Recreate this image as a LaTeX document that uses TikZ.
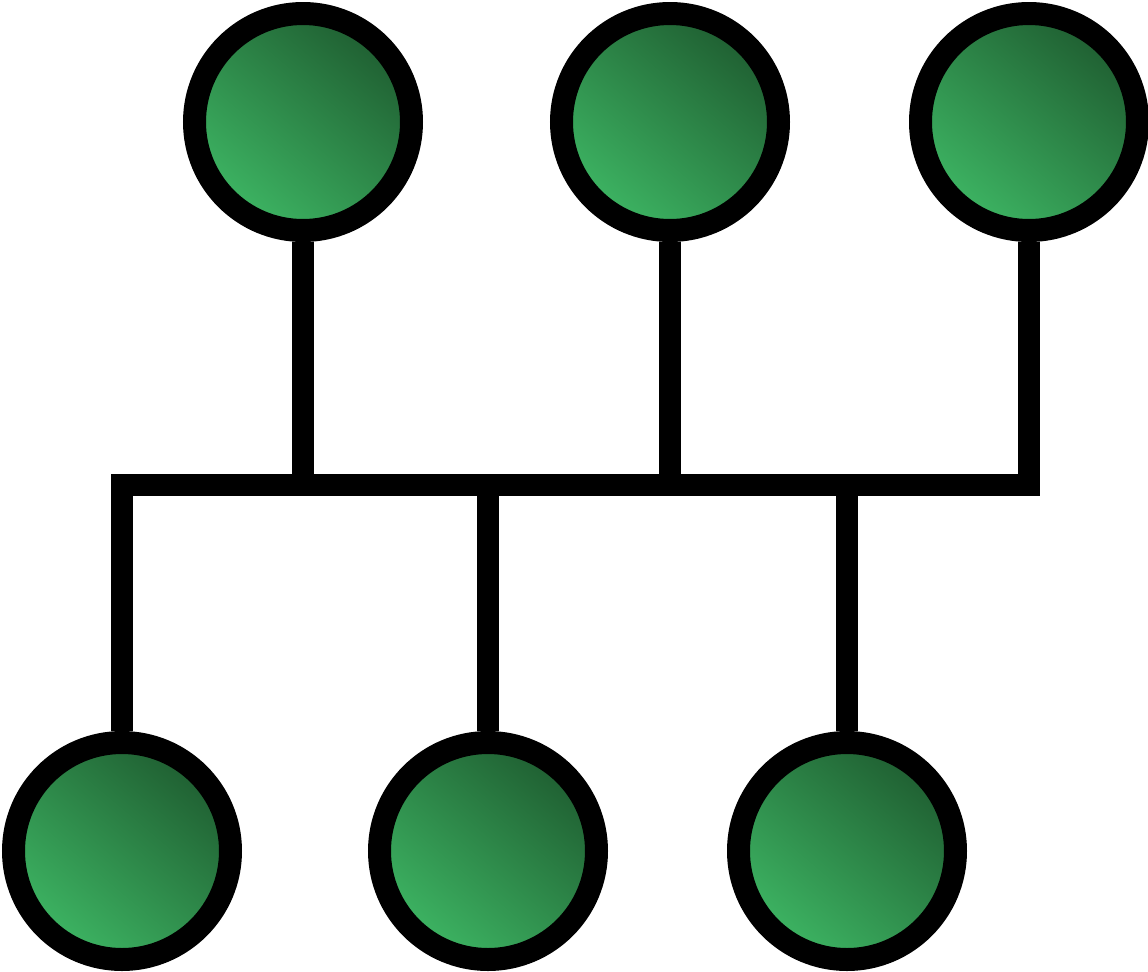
\documentclass[tikz,border=0pt]{standalone}
\definecolor{gdark}{HTML}{1F5E31}
\definecolor{glight}{HTML}{3DB563}
\tikzset{
  hostnode/.style={circle, draw=black, line width=11.5pt, minimum size=108.5pt, inner sep=0pt,
    top color=gdark, bottom color=glight, shading angle=-40},
  wire/.style={line width=11pt, line join=miter, line cap=butt}
}
\begin{document}
\begin{tikzpicture}[x=0.5pt,y=-0.5pt]
\useasboundingbox (0,0) rectangle (1148,971);
\node[hostnode] (t1) at (303,122) {};
\node[hostnode] (t2) at (670,122) {};
\node[hostnode] (t3) at (1029,122) {};
\node[hostnode] (b1) at (122,851) {};
\node[hostnode] (b2) at (488,851) {};
\node[hostnode] (b3) at (847,851) {};
\coordinate (busL) at (122,485);
\coordinate (busR) at (1029,485);
\draw[wire] (b1.north) -- (busL) -- (busR) -- (t3.south);
\draw[wire] (t1.south) -- (t1.south |- busL);
\draw[wire] (t2.south) -- (t2.south |- busL);
\draw[wire] (b2.north) -- (b2.north |- busL);
\draw[wire] (b3.north) -- (b3.north |- busL);
\end{tikzpicture}
\end{document}
